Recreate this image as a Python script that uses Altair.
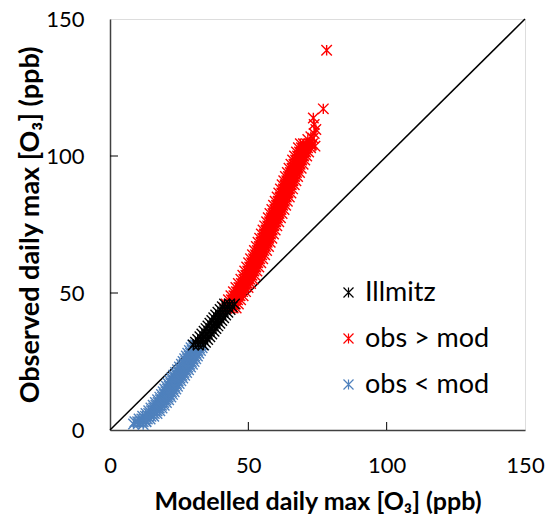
import altair as alt
import pandas as pd

# ---------------- data ----------------
# obs > mod (red): observed values and modelled tracks across the band
red_obs = [44.5, 46, 47.5, 49, 50.5, 52, 53.5, 55, 56.5, 58, 59.5, 61, 62.5, 64, 65.5, 67, 68.5,
           70, 71.5, 73, 74.5, 76, 77.5, 79, 80.5, 82, 83.5, 85, 86.5, 88, 89.5, 91, 92.5, 94,
           95.5, 97, 98.5, 100, 101.5, 103, 104.5]
red_mod_left = [41.2, 42.0, 42.8, 43.7, 44.6, 45.5, 46.4, 47.3, 48.0, 48.7, 49.4, 50.1, 50.8, 51.5,
                52.2, 52.9, 53.5, 54.1, 54.7, 55.3, 55.9, 56.6, 57.2, 57.8, 58.5, 59.1, 59.7, 60.4,
                61.0, 61.6, 62.2, 62.8, 63.4, 64.1, 64.7, 65.4, 66.0, 66.7, 67.4, 68.1, 68.8]
red_mod_q1 = [42.3, 43.1, 43.9, 44.8, 45.7, 46.6, 47.5, 48.4, 49.1, 49.8, 50.5, 51.2, 51.9, 52.6,
              53.3, 54.0, 54.6, 55.2, 55.8, 56.4, 57.0, 57.7, 58.3, 58.9, 59.6, 60.2, 60.8, 61.5,
              62.1, 62.7, 63.3, 63.9, 64.5, 65.2, 65.8, 66.5, 67.1, 67.8, 68.5, 69.2, 69.9]
red_mod_mid = [43.4, 44.2, 45.0, 45.9, 46.8, 47.7, 48.6, 49.5, 50.2, 50.9, 51.6, 52.3, 53.0, 53.7,
               54.4, 55.1, 55.7, 56.3, 56.9, 57.5, 58.1, 58.8, 59.4, 60.0, 60.7, 61.3, 61.9, 62.6,
               63.2, 63.8, 64.4, 65.0, 65.6, 66.3, 66.9, 67.6, 68.2, 68.9, 69.6, 70.3, 71.0]
red_mod_q3 = [44.5, 45.3, 46.1, 47.0, 47.9, 48.8, 49.7, 50.6, 51.3, 52.0, 52.7, 53.4, 54.1, 54.8,
              55.5, 56.2, 56.8, 57.4, 58.0, 58.6, 59.2, 59.9, 60.5, 61.1, 61.8, 62.4, 63.0, 63.7,
              64.3, 64.9, 65.5, 66.1, 66.7, 67.4, 68.0, 68.7, 69.3, 70.0, 70.7, 71.4, 72.1]
red_mod_right = [45.6, 46.4, 47.2, 48.1, 49.0, 49.9, 50.8, 51.7, 52.4, 53.1, 53.8, 54.5, 55.2, 55.9,
                 56.6, 57.3, 57.9, 58.5, 59.1, 59.7, 60.3, 61.0, 61.6, 62.2, 62.9, 63.5, 64.1, 64.8,
                 65.4, 66.0, 66.6, 67.2, 67.8, 68.5, 69.1, 69.8, 70.4, 71.1, 71.8, 72.5, 73.2]
red_extra_mod = [72.8, 74.1, 73.4, 73.8, 74.4, 73.8, 73.5, 71.5, 72.6, 77.1, 78.3]
red_extra_obs = [104.0, 103.6, 106.5, 108.2, 109.7, 111.5, 113.9, 106.0, 107.0, 117.2, 138.6]

# obs < mod (blue)
blue_obs = [3, 4, 5, 6, 7, 8, 9, 10, 11, 12, 13, 14, 15, 16, 17, 18, 19, 20, 21, 22, 23, 24, 25,
            26, 27, 28, 29, 30, 31]
blue_mod_left = [9.0, 10.5, 11.8, 13.0, 14.0, 14.8, 15.6, 16.4, 17.2, 18.0, 18.6, 19.2, 19.8, 20.4,
                 21.0, 21.6, 22.3, 23.0, 23.7, 24.4, 25.1, 25.8, 26.4, 27.0, 27.6, 28.1, 28.7,
                 29.3, 29.9]
blue_mod_q1 = [10.0, 11.5, 12.8, 14.0, 15.0, 15.8, 16.6, 17.4, 18.2, 19.0, 19.6, 20.2, 20.8, 21.4,
               22.0, 22.6, 23.3, 24.0, 24.7, 25.4, 26.1, 26.8, 27.4, 28.0, 28.6, 29.1, 29.7,
               30.3, 30.9]
blue_mod_mid = [11.0, 12.5, 13.8, 15.0, 16.0, 16.8, 17.6, 18.4, 19.2, 20.0, 20.6, 21.2, 21.8, 22.4,
                23.0, 23.6, 24.3, 25.0, 25.7, 26.4, 27.1, 27.8, 28.4, 29.0, 29.6, 30.1, 30.7,
                31.3, 31.9]
blue_mod_q3 = [12.0, 13.5, 14.8, 16.0, 17.0, 17.8, 18.6, 19.4, 20.2, 21.0, 21.6, 22.2, 22.8, 23.4,
               24.0, 24.6, 25.3, 26.0, 26.7, 27.4, 28.1, 28.8, 29.4, 30.0, 30.6, 31.1, 31.7,
               32.3, 32.9]
blue_mod_right = [13.0, 14.5, 15.8, 17.0, 18.0, 18.8, 19.6, 20.4, 21.2, 22.0, 22.6, 23.2, 23.8,
                  24.4, 25.0, 25.6, 26.3, 27.0, 27.7, 28.4, 29.1, 29.8, 30.4, 31.0, 31.6, 32.1,
                  32.7, 33.3, 33.9]
blue_extra_mod = [8.5, 10.5, 12.0, 13.0]
blue_extra_obs = [2.2, 2.6, 2.0, 3.2]

# Illmitz (black)
black_obs = [31, 32, 33, 34, 35, 36, 37, 38, 39, 40, 41, 42, 43, 44, 45, 46]
black_mod_left = [30.1, 30.9, 31.7, 32.5, 33.2, 34.0, 34.7, 35.4, 36.1, 36.8, 37.5, 38.2, 39.0,
                  39.8, 40.6, 41.4]
black_mod_mid = [31.9, 32.7, 33.5, 34.3, 35.0, 35.8, 36.5, 37.2, 37.9, 38.6, 39.3, 40.0, 40.8,
                 41.6, 42.4, 43.2]
black_mod_right = [33.7, 34.5, 35.3, 36.1, 36.8, 37.6, 38.3, 39.0, 39.7, 40.4, 41.1, 41.8, 42.6,
                   43.4, 44.2, 45.0]

series_names = ["Illmitz", "obs > mod", "obs < mod"]
series_colors = ["#000000", "#FF0000", "#4F81BD"]
tick_values = [0, 50, 100, 150]
inner_ticks = [50, 100]
diag_vals = [0, 150]

# ---------------- build tables ----------------
rows = []
def add(name, mods, obss):
    for m, o in zip(mods, obss):
        rows.append({"series": name, "mod": m, "obs": o})

# drawing order: red first, then blue, black on top
for track in (red_mod_left, red_mod_q1, red_mod_mid, red_mod_q3, red_mod_right):
    add("obs > mod", track, red_obs)
add("obs > mod", red_extra_mod, red_extra_obs)
for track in (blue_mod_left, blue_mod_q1, blue_mod_mid, blue_mod_q3, blue_mod_right):
    add("obs < mod", track, blue_obs)
add("obs < mod", blue_extra_mod, blue_extra_obs)
for track in (black_mod_left, black_mod_mid, black_mod_right):
    add("Illmitz", track, black_obs)
pts = pd.DataFrame(rows)

diag = pd.DataFrame({"mod": diag_vals, "obs": diag_vals})
ticks_df = pd.DataFrame({"v": inner_ticks})

W, H = 415, 411
STAR = "M-1,-1L1,1M-1,1L1,-1M0,-1L0,1"
FONT = "Lato"

xscale = alt.Scale(domain=[0, 150], nice=False)
yscale = alt.Scale(domain=[0, 150], nice=False)

xaxis = alt.Axis(values=tick_values, title="Modelled daily max [O₃] (ppb)", grid=False,
                 ticks=False, tickSize=0, labelPadding=25, labelFontSize=22, labelFont=FONT,
                 labelColor="#000000", titleFont=FONT, titleFontSize=25, titleFontWeight="bold",
                 titleColor="#000000", titleX=W / 2, titleY=71, titleBaseline="middle",
                 domainColor="#404040", domainWidth=1.5, labelFlush=False)
yaxis = alt.Axis(values=tick_values, title="Observed daily max [O₃] (ppb)", grid=False,
                 ticks=False, tickSize=0, labelPadding=26, labelFontSize=22, labelFont=FONT,
                 labelColor="#000000", titleFont=FONT, titleFontSize=27, titleFontWeight="bold",
                 titleColor="#000000", titleX=-80, titleY=H / 2, titleAngle=270,
                 titleAlign="center", titleBaseline="middle",
                 domainColor="#404040", domainWidth=1.5, labelFlush=False)

diag_line = alt.Chart(diag).mark_line(color="#000000", strokeWidth=1.5).encode(
    x=alt.X("mod:Q", scale=xscale, axis=xaxis),
    y=alt.Y("obs:Q", scale=yscale, axis=yaxis),
)

points = alt.Chart(pts).mark_point(shape=STAR, filled=False, strokeWidth=1.4, size=110,
                                   opacity=1).encode(
    x=alt.X("mod:Q", scale=xscale),
    y=alt.Y("obs:Q", scale=yscale),
    color=alt.Color("series:N",
                    scale=alt.Scale(domain=series_names, range=series_colors),
                    legend=alt.Legend(title=None, orient="none", legendX=225, legendY=260,
                                      labelFont=FONT, labelFontSize=27, labelColor="#000000",
                                      symbolType=STAR, symbolSize=100, symbolStrokeWidth=1.2,
                                      rowPadding=18, labelOffset=3, padding=0)),
)

xticks = alt.Chart(ticks_df).mark_rule(color="#000000", strokeWidth=1).encode(
    x=alt.X("v:Q", scale=xscale), y=alt.value(H), y2=alt.value(H - 8))
yticks = alt.Chart(ticks_df).mark_rule(color="#000000", strokeWidth=1).encode(
    y=alt.Y("v:Q", scale=yscale), x=alt.value(0), x2=alt.value(8))

chart = alt.layer(diag_line, points, xticks, yticks).properties(
    width=W, height=H,
    autosize=alt.AutoSizeParams(type="none"),
    padding={"left": 102, "top": 11, "right": 20, "bottom": 84},
).configure_view(stroke="#868686", strokeWidth=1).configure(background="white")

chart.save("out.html", embed_options={"renderer": "svg", "actions": False})
